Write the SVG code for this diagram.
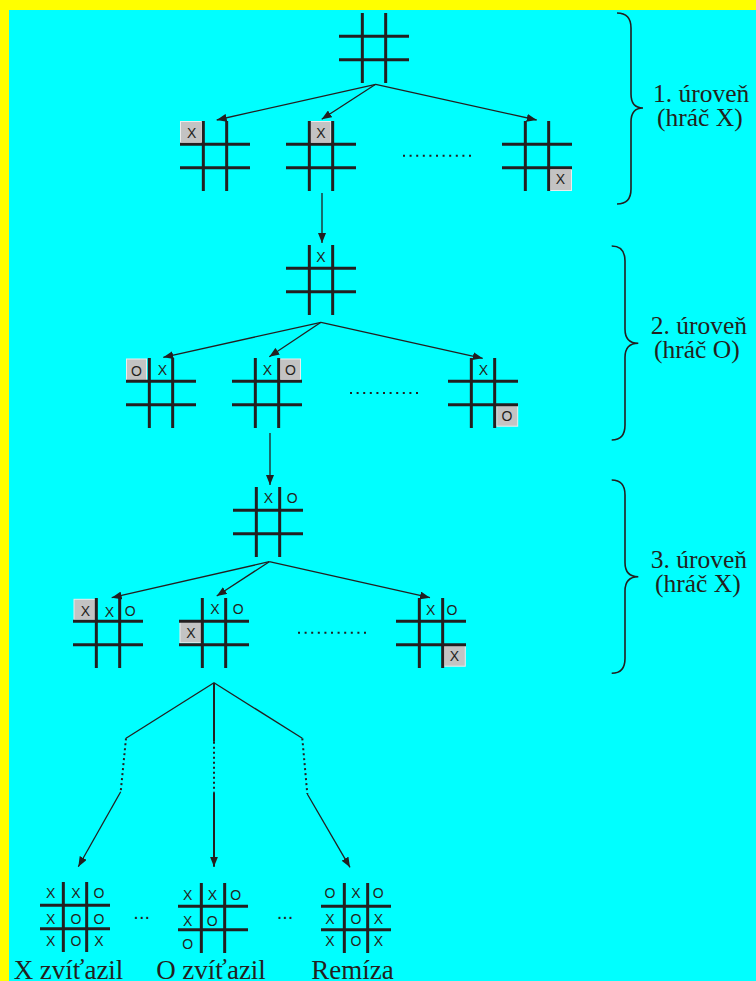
<svg xmlns="http://www.w3.org/2000/svg" width="756" height="981" viewBox="0 0 756 981">
  <style>
    .grid line { stroke: #231f20; stroke-width: 3; }
    .cell { fill: #c3c3c3; stroke: #ececec; stroke-width: 1; }
    .mark { font-family: "Liberation Sans", Arial, sans-serif; font-size: 14px; fill: #231f20; text-anchor: middle; }
    .more { font-family: "Liberation Sans", Arial, sans-serif; font-size: 20px; fill: #231f20; text-anchor: middle; }
    .edge { stroke: #231f20; stroke-width: 1.3; fill: none; }
    .arrow { marker-end: url(#head); }
    .dots { stroke: #231f20; stroke-width: 2; stroke-dasharray: 2 4.6; fill: none; }
    .dotted { stroke: #231f20; stroke-width: 2; stroke-dasharray: 2 3; fill: none; }
    .label { font-family: "Liberation Serif", "Times New Roman", serif; font-size: 25.5px; fill: #231f20; }
    .result { font-family: "Liberation Serif", "Times New Roman", serif; font-size: 27px; fill: #231f20; text-anchor: middle; }
    .brace { stroke: #231f20; stroke-width: 1.6; fill: none; }
  </style>
  <defs>
    <marker id="head" viewBox="0 0 10 8" refX="10" refY="4" markerWidth="10" markerHeight="8" markerUnits="userSpaceOnUse" orient="auto">
      <path d="M0,0 L10,4 L0,8 Z" fill="#231f20"/>
    </marker>
    <!-- empty 3x3 board, 70 x 70 -->
    <g id="board" class="grid">
      <line x1="0" y1="23.33" x2="70" y2="23.33"/>
      <line x1="0" y1="46.67" x2="70" y2="46.67"/>
      <line x1="23.33" y1="0" x2="23.33" y2="70"/>
      <line x1="46.67" y1="0" x2="46.67" y2="70"/>
    </g>
  </defs>

  <!-- background and frame -->
  <rect x="0" y="0" width="756" height="981" fill="#00ffff"/>
  <rect x="0" y="0" width="756" height="10" fill="#ffff00"/>
  <rect x="0" y="0" width="9" height="981" fill="#ffff00"/>

  <!-- connectors -->
  <g id="connectors">
    <line class="edge arrow" x1="375.7" y1="84.3" x2="216.7" y2="120"/>
    <line class="edge arrow" x1="375.7" y1="84.3" x2="321.7" y2="119.3"/>
    <line class="edge arrow" x1="375.7" y1="84.3" x2="536.7" y2="120"/>
    <line class="edge arrow" x1="322" y1="193" x2="322" y2="243"/>

    <line class="edge arrow" x1="321" y1="322.3" x2="163.3" y2="357.3"/>
    <line class="edge arrow" x1="321" y1="322.3" x2="269.3" y2="356.7"/>
    <line class="edge arrow" x1="321" y1="322.3" x2="482.7" y2="358.3"/>
    <line class="edge arrow" x1="270" y1="433" x2="270" y2="485"/>

    <line class="edge arrow" x1="269.3" y1="561.7" x2="111.7" y2="597.7"/>
    <line class="edge arrow" x1="269.3" y1="561.7" x2="216.7" y2="596"/>
    <line class="edge arrow" x1="269.3" y1="561.7" x2="430" y2="597.7"/>

    <!-- fan-out to final positions -->
    <line class="edge" x1="214" y1="682.7" x2="126" y2="738.3"/>
    <line class="dotted" x1="126" y1="738.3" x2="120.7" y2="791.7"/>
    <line class="edge arrow" x1="120.7" y1="791.7" x2="78.3" y2="866.7"/>

    <line class="edge" style="stroke-width:2" x1="214" y1="682.7" x2="214" y2="741.7"/>
    <line class="dotted" x1="214" y1="741.7" x2="214" y2="792.7"/>
    <line class="edge arrow" style="stroke-width:2" x1="214" y1="792.7" x2="214" y2="866.7"/>

    <line class="edge" x1="214" y1="682.7" x2="302.3" y2="738.3"/>
    <line class="dotted" x1="302.3" y1="738.3" x2="307.3" y2="794"/>
    <line class="edge arrow" x1="307.3" y1="794" x2="350" y2="867.3"/>

    <!-- "more moves" ellipses -->
    <line class="dots" x1="403" y1="155.7" x2="472" y2="155.7"/>
    <line class="dots" x1="350" y1="393" x2="419" y2="393"/>
    <line class="dots" x1="298" y1="632.7" x2="367" y2="632.7"/>
  </g>

  <!-- level 0: empty board -->
  <g id="root">
    <use href="#board" x="339" y="13"/>
  </g>

  <!-- level 1 -->
  <g id="l1a">
    <rect class="cell" x="180.5" y="121.5" width="21" height="21"/>
    <use href="#board" x="180" y="121"/>
    <text class="mark" x="191.7" y="137.7">X</text>
  </g>
  <g id="l1b">
    <rect class="cell" x="310.5" y="121.5" width="20.5" height="21"/>
    <use href="#board" x="286" y="121"/>
    <text class="mark" x="321" y="137.7">X</text>
  </g>
  <g id="l1c">
    <rect class="cell" x="550" y="169.5" width="21.5" height="21"/>
    <use href="#board" x="502" y="121"/>
    <text class="mark" x="560.3" y="184.3">X</text>
  </g>

  <!-- level 2 -->
  <g id="l2root">
    <use href="#board" x="286" y="245"/>
    <text class="mark" x="321" y="261.7">X</text>
  </g>
  <g id="l2a">
    <rect class="cell" x="126.5" y="359" width="20" height="21.5"/>
    <use href="#board" x="126" y="358"/>
    <text class="mark" x="136.5" y="375.5">O</text>
    <text class="mark" x="162.3" y="375">X</text>
  </g>
  <g id="l2b">
    <rect class="cell" x="280" y="359" width="20.5" height="20.5"/>
    <use href="#board" x="232" y="358"/>
    <text class="mark" x="267.3" y="375">X</text>
    <text class="mark" x="290.5" y="374.5">O</text>
  </g>
  <g id="l2c">
    <rect class="cell" x="496.7" y="405.7" width="21" height="20.5"/>
    <use href="#board" x="448" y="358"/>
    <text class="mark" x="483.3" y="375">X</text>
    <text class="mark" x="507" y="421">O</text>
  </g>

  <!-- level 3 -->
  <g id="l3root">
    <use href="#board" x="233" y="487"/>
    <text class="mark" x="268.3" y="502.7">X</text>
    <text class="mark" x="292.3" y="503">O</text>
  </g>
  <g id="l3a">
    <rect class="cell" x="74" y="599.3" width="21.5" height="20.5"/>
    <use href="#board" x="73" y="598"/>
    <text class="mark" x="85.3" y="615.7">X</text>
    <text class="mark" x="109.3" y="617.3">X</text>
    <text class="mark" x="130.3" y="615.5">O</text>
  </g>
  <g id="l3b">
    <rect class="cell" x="180" y="621.7" width="21.5" height="21"/>
    <use href="#board" x="179" y="598"/>
    <text class="mark" x="215" y="614">X</text>
    <text class="mark" x="238.3" y="614">O</text>
    <text class="mark" x="191" y="637.5">X</text>
  </g>
  <g id="l3c">
    <rect class="cell" x="444" y="645.7" width="21.3" height="20.5"/>
    <use href="#board" x="396" y="598"/>
    <text class="mark" x="430.7" y="615">X</text>
    <text class="mark" x="452" y="615">O</text>
    <text class="mark" x="454.5" y="661">X</text>
  </g>

  <!-- final positions -->
  <g id="xwins">
    <use href="#board" x="40" y="882"/>
    <text class="mark" x="50.7" y="898.3">X</text>
    <text class="mark" x="76" y="898.3">X</text>
    <text class="mark" x="99" y="898.3">O</text>
    <text class="mark" x="50.7" y="924">X</text>
    <text class="mark" x="76" y="924">O</text>
    <text class="mark" x="99" y="924">O</text>
    <text class="mark" x="50.7" y="946">X</text>
    <text class="mark" x="76" y="946">O</text>
    <text class="mark" x="99" y="946">X</text>
    <text class="result" x="68.5" y="979">X zvíťazil</text>
  </g>
  <text class="more" x="141.7" y="918.5">...</text>
  <g id="owins">
    <use href="#board" x="178" y="883"/>
    <text class="mark" x="187.7" y="900">X</text>
    <text class="mark" x="212.3" y="900">X</text>
    <text class="mark" x="235.7" y="900">O</text>
    <text class="mark" x="187.7" y="925.7">X</text>
    <text class="mark" x="212.3" y="925.7">O</text>
    <text class="mark" x="187.7" y="949">O</text>
    <text class="result" x="211" y="979">O zvíťazil</text>
  </g>
  <text class="more" x="285" y="918.5">...</text>
  <g id="draw">
    <use href="#board" x="321" y="883"/>
    <text class="mark" x="330" y="897.7">O</text>
    <text class="mark" x="356" y="897.7">X</text>
    <text class="mark" x="378.3" y="897.7">O</text>
    <text class="mark" x="330" y="924">X</text>
    <text class="mark" x="356" y="924">O</text>
    <text class="mark" x="378.3" y="924">X</text>
    <text class="mark" x="330" y="946">X</text>
    <text class="mark" x="356" y="946">O</text>
    <text class="mark" x="378.3" y="946">X</text>
    <text class="result" x="352.5" y="979">Remíza</text>
  </g>

  <!-- level braces and captions -->
  <g id="level1">
    <path class="brace" d="M617,13 Q631,13 631,28 L631,94 Q631,108 643,108 Q631,108 631,122 L631,189 Q631,204 617,204"/>
    <text class="label" x="653" y="101.7">1. úroveň</text>
    <text class="label" x="657" y="125.5">(hráč X)</text>
  </g>
  <g id="level2">
    <path class="brace" d="M611.7,246 Q625,246 625,261 L625,329 Q625,343.3 638.3,343.3 Q625,343.3 625,357.5 L625,425 Q625,440 611.7,440"/>
    <text class="label" x="650.7" y="334">2. úroveň</text>
    <text class="label" x="654" y="358">(hráč O)</text>
  </g>
  <g id="level3">
    <path class="brace" d="M611.7,480 Q625,480 625,495 L625,562.5 Q625,576.7 638.3,576.7 Q625,576.7 625,591 L625,658.5 Q625,673.3 611.7,673.3"/>
    <text class="label" x="650.7" y="568.3">3. úroveň</text>
    <text class="label" x="655" y="591.7">(hráč X)</text>
  </g>
</svg>
